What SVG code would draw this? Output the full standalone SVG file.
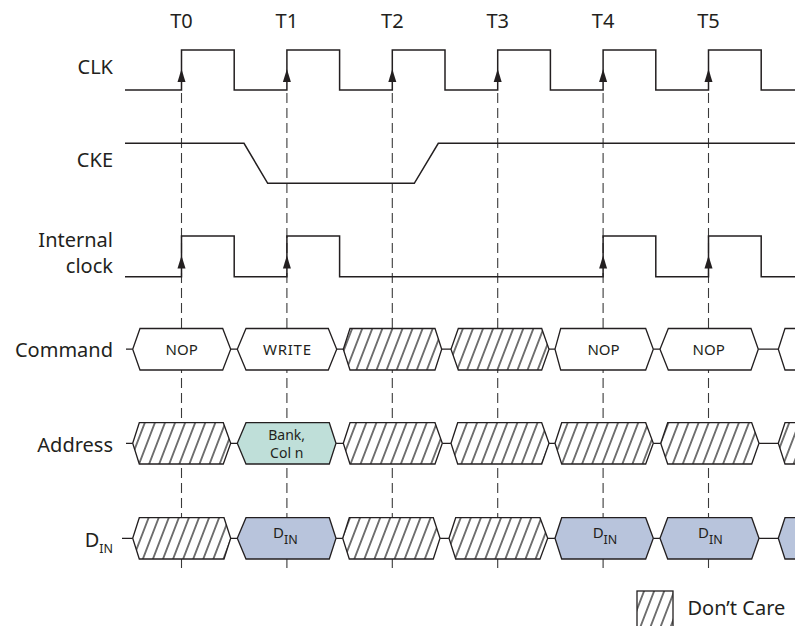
<svg xmlns="http://www.w3.org/2000/svg" width="795" height="626" viewBox="0 0 795 626">
<defs>
<pattern id="hatch" patternUnits="userSpaceOnUse" width="9.4" height="20" patternTransform="rotate(21)">
<rect width="9.4" height="20" fill="#fff"/>
<line x1="4.7" y1="-1" x2="4.7" y2="21" stroke="#1a1a1a" stroke-width="1.2"/>
</pattern>
<style>
.t{font-family:"Noto Sans","Open Sans","DejaVu Sans",sans-serif;fill:#231f20}
.lbl{font-size:20px;text-anchor:end}
.tick{font-size:20px;text-anchor:middle}
.bx{font-size:15px;text-anchor:middle}
.bx2{font-size:14px;text-anchor:middle}
.w{fill:none;stroke:#231f20;stroke-width:1.5}
.b{stroke:#231f20;stroke-width:1.3;stroke-linejoin:miter}
.h{fill:url(#hatch)}
.wh{fill:#fff}
.teal{fill:#bfdfd9}
.blu{fill:#b8c4dc}
.c{stroke:#231f20;stroke-width:1.3}
.d{stroke:#3a3a3a;stroke-width:1.1;stroke-dasharray:10 5}
.ar{fill:#231f20}
</style>
</defs>
<rect width="795" height="626" fill="#fff"/>

<g id="connectors">
<line class="d" x1="181.5" y1="93" x2="181.5" y2="572"/>
<line class="d" x1="286.9" y1="93" x2="286.9" y2="572"/>
<line class="d" x1="392.3" y1="93" x2="392.3" y2="572"/>
<line class="d" x1="497.7" y1="93" x2="497.7" y2="572"/>
<line class="d" x1="603.1" y1="93" x2="603.1" y2="572"/>
<line class="d" x1="708.5" y1="93" x2="708.5" y2="572"/>
<path class="c" d="M126,349.2H132.7M230.7,349.2H237.3M336.7,349.2H343.3M441.7,349.2H451M549,349.2H555M653.3,349.2H660M758.3,349.2H778.3"/>
<path class="c" d="M126,443.3H132.7M230.7,443.3H237.3M336,443.3H343.3M442.3,443.3H451M549,443.3H555M653.3,443.3H660.7M759,443.3H778.3"/>
<path class="c" d="M122,538.3H132.7M230.7,538.3H237.3M336,538.3H342.7M440,538.3H449M547.7,538.3H555M653.3,538.3H660M759,538.3H778.3"/>
</g>

<g id="ticks">
<text class="t tick" x="181.5" y="28">T0</text>
<text class="t tick" x="286.9" y="28">T1</text>
<text class="t tick" x="392.3" y="28">T2</text>
<text class="t tick" x="497.7" y="28">T3</text>
<text class="t tick" x="603.1" y="28">T4</text>
<text class="t tick" x="708.5" y="28">T5</text>
</g>

<g id="clk">
<text class="t lbl" x="113" y="74">CLK</text>
<path class="w" d="M125,90H181.5V50H234.2V90H286.9V50H339.6V90H392.3V50H445V90H497.7V50H550.4V90H603.1V50H655.8V90H708.5V50H761.2V90H795"/>
<polygon class="ar" points="181.5,69 177.5,82 185.5,82"/>
<polygon class="ar" points="286.9,69 282.9,82 290.9,82"/>
<polygon class="ar" points="392.3,69 388.3,82 396.3,82"/>
<polygon class="ar" points="497.7,69 493.7,82 501.7,82"/>
<polygon class="ar" points="603.1,69 599.1,82 607.1,82"/>
<polygon class="ar" points="708.5,69 704.5,82 712.5,82"/>
</g>

<g id="cke">
<text class="t lbl" x="113" y="167">CKE</text>
<path class="w" d="M125,143.3H244L267.7,183.3H414.3L438.3,143.3H795"/>
</g>

<g id="internal-clock">
<text class="t lbl" x="113" y="247.2" font-size="19">Internal</text>
<text class="t lbl" x="113" y="273.4" font-size="19">clock</text>
<path class="w" d="M125,276.7H181.5V236H234.2V276.7H286.9V236H339.6V276.7H603.1V236H655.8V276.7H708.5V236H761.2V276.7H795"/>
<polygon class="ar" points="181.5,255.5 177.5,268.5 185.5,268.5"/>
<polygon class="ar" points="286.9,255.5 282.9,268.5 290.9,268.5"/>
<polygon class="ar" points="603.1,255.5 599.1,268.5 607.1,268.5"/>
<polygon class="ar" points="708.5,255.5 704.5,268.5 712.5,268.5"/>
</g>

<g id="command">
<text class="t lbl" x="113" y="357">Command</text>
<polygon class="b wh" points="132.7,349.2 140,328.5 222.7,328.5 230.7,349.2 222.7,370 140,370"/>
<polygon class="b wh" points="237.3,349.2 246,328.5 328.3,328.5 336.7,349.2 328.3,370 246,370"/>
<polygon class="b h" points="343.3,349.2 350,328.5 435,328.5 441.7,349.2 435,370 350,370"/>
<polygon class="b h" points="451,349.2 458.3,328.5 541.7,328.5 549,349.2 541.7,370 458.3,370"/>
<polygon class="b wh" points="555,349.2 560.7,328.5 645.7,328.5 653.3,349.2 645.7,370 560.7,370"/>
<polygon class="b wh" points="660,349.2 668.3,328.5 751,328.5 758.3,349.2 751,370 668.3,370"/>
<polygon class="b wh" points="778.3,349.2 785,328.5 800,328.5 800,370 785,370"/>
<text class="t bx" x="181.7" y="354.5">NOP</text>
<text class="t bx" x="287" y="354.5" textLength="48">WRITE</text>
<text class="t bx" x="603.5" y="354.5">NOP</text>
<text class="t bx" x="708.7" y="354.5">NOP</text>
</g>

<g id="address">
<text class="t lbl" x="113" y="452">Address</text>
<polygon class="b h" points="132.7,443.3 139.3,422.7 223.3,422.7 230.7,443.3 223.3,464 139.3,464"/>
<polygon class="b teal" points="237.3,443.3 246,422.7 329.3,422.7 336,443.3 329.3,464 246,464"/>
<polygon class="b h" points="343.3,443.3 350,422.7 435,422.7 442.3,443.3 435,464 350,464"/>
<polygon class="b h" points="451,443.3 457.7,422.7 541.7,422.7 549,443.3 541.7,464 457.7,464"/>
<polygon class="b h" points="555,443.3 561.7,422.7 645.7,422.7 653.3,443.3 645.7,464 561.7,464"/>
<polygon class="b h" points="660.7,443.3 667.7,422.7 751.7,422.7 759,443.3 751.7,464 667.7,464"/>
<polygon class="b h" points="778.3,443.3 785,422.7 800,422.7 800,464 785,464"/>
<text class="t bx2" x="286.7" y="440">Bank,</text>
<text class="t bx2" x="286.7" y="458">Col n</text>
</g>

<g id="din">
<text class="t lbl" x="113" y="546.7">D<tspan font-size="12.5" dy="6">IN</tspan></text>
<polygon class="b h" points="132.7,538.3 139.3,517.7 224,517.7 230.7,538.3 224,559 139.3,559"/>
<polygon class="b blu" points="237.3,538.3 246,517.7 329.3,517.7 336,538.3 329.3,559 246,559"/>
<polygon class="b h" points="342.7,538.3 349.3,517.7 433.3,517.7 440,538.3 433.3,559 349.3,559"/>
<polygon class="b h" points="449,538.3 455.7,517.7 540,517.7 547.7,538.3 540,559 455.7,559"/>
<polygon class="b blu" points="555,538.3 561.7,517.7 645.7,517.7 653.3,538.3 645.7,559 561.7,559"/>
<polygon class="b blu" points="660,538.3 667.7,517.7 751.7,517.7 759,538.3 751.7,559 667.7,559"/>
<polygon class="b blu" points="778.3,538.3 785,517.7 800,517.7 800,559 785,559"/>
<text class="t bx" x="285.3" y="538.3">D<tspan font-size="12.5" dy="6">IN</tspan></text>
<text class="t bx" x="605" y="538.3">D<tspan font-size="12.5" dy="6">IN</tspan></text>
<text class="t bx" x="710.3" y="538.3">D<tspan font-size="12.5" dy="6">IN</tspan></text>
</g>

<g id="legend">
<rect class="b h" x="637" y="591" width="36" height="40"/>
<text class="t" x="687.5" y="615" font-size="20">Don’t Care</text>
</g>
</svg>
